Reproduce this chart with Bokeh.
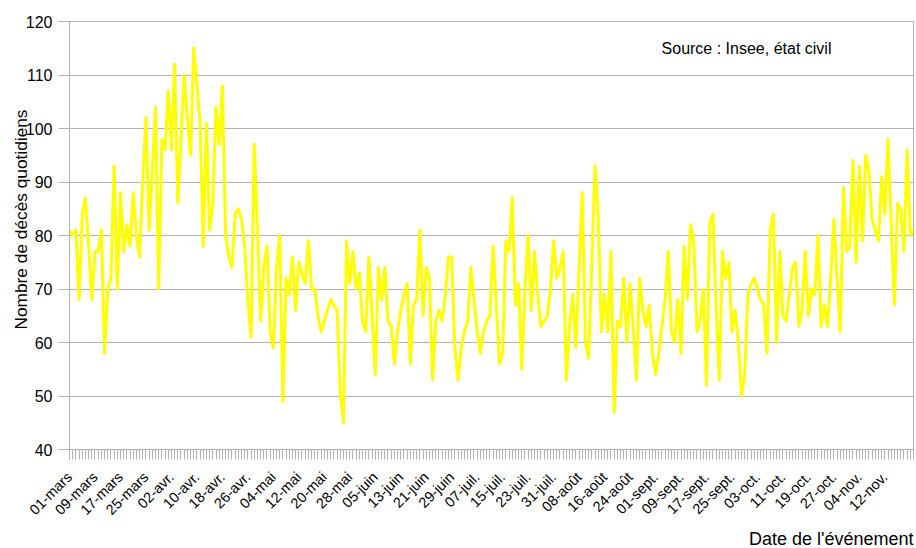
import math
from bokeh.plotting import figure
from bokeh.models import Range1d, FixedTicker, Label, ColumnDataSource, Title
from bokeh.embed import file_html
from bokeh.resources import INLINE

# Daily deaths, one value per day starting 01-mars
deaths = [
    81, 80, 81, 68, 84, 87, 78, 68, 77, 77, 81, 58, 70, 72, 93, 70, 88, 77, 82, 78,
    88, 80, 76, 90, 102, 81, 92, 104, 70, 98, 96, 107,
    96, 112, 86, 98, 110, 102, 95, 115, 108, 101, 78, 101, 81, 86, 104, 97, 108, 80,
    76, 74, 84, 85, 83, 78, 68, 61, 97, 81, 64, 74, 78, 62, 59,
    74, 80, 49, 72, 69, 76, 66, 75, 73, 71, 79, 70, 70, 65, 62, 64, 66, 68, 67, 66,
    51, 45, 79, 71, 77, 70, 73, 64, 62, 76, 65, 54, 74,
    68, 74, 64, 63, 56, 62, 66, 69, 71, 56, 67, 68, 81, 65, 74, 72, 53, 64, 66, 64,
    69, 76, 76, 59, 53, 59, 62, 64, 74, 68, 62, 58,
    62, 64, 65, 78, 67, 56, 58, 79, 77, 87, 67, 71, 55, 70, 80, 66, 77, 69, 63, 64,
    65, 70, 79, 72, 74, 77, 53, 63, 69, 59, 74, 88, 60, 57,
    75, 93, 84, 62, 69, 62, 77, 47, 64, 63, 72, 60, 71, 63, 53, 72, 66, 63, 67, 58,
    54, 58, 63, 68, 77, 62, 60, 68, 58, 78, 68,
    82, 79, 62, 64, 70, 52, 82, 84, 67, 53, 77, 72, 75, 62, 66, 60, 50, 54, 69, 71,
    72, 70, 68, 67, 58, 81, 84, 60, 77, 65, 64, 69, 74, 75,
    63, 66, 77, 65, 70, 69, 80, 63, 67, 63, 72, 83, 72, 62, 89, 77, 78, 94, 75, 93,
    79, 95, 92, 83, 81, 79, 91, 84, 98, 82, 67, 86, 85, 77, 96, 80, 81,
]

tick_labels = [
    "01-mars", "09-mars", "17-mars", "25-mars", "02-avr.", "10-avr.", "18-avr.",
    "26-avr.", "04-mai", "12-mai", "20-mai", "28-mai", "05-juin", "13-juin",
    "21-juin", "29-juin", "07-juil.", "15-juil.", "23-juil.", "31-juil.",
    "08-août", "16-août", "24-août", "01-sept.", "09-sept.", "17-sept.",
    "25-sept.", "03-oct.", "11-oct.", "19-oct.", "27-oct.", "04-nov.", "12-nov.",
]
tick_step = 8
y_ticks = [40, 50, 60, 70, 80, 90, 100, 110, 120]

x_title = "Date de l'événement"
y_title = "Nombre de décès quotidiens"
source_note = "Source : Insee, état civil"

days = list(range(len(deaths)))
major_ticks = [i * tick_step for i in range(len(tick_labels))]

FONT = "Liberation Sans"
GRID = "#b3b3b3"

src = ColumnDataSource(dict(day=days, deaths=deaths))

p = figure(width=916, height=548, output_backend="svg", toolbar_location=None,
           x_range=Range1d(0, len(deaths) - 1), y_range=Range1d(40, 120),
           min_border_left=69, min_border_right=3, min_border_top=21,
           min_border_bottom=95)
p.background_fill_color = "white"
p.border_fill_color = "white"
p.outline_line_color = GRID

p.line("day", "deaths", source=src, line_color="#ffff00", line_width=3,
       line_join="round")

# x axis
xa = p.xaxis[0]
xa.ticker = FixedTicker(ticks=major_ticks, minor_ticks=days)
xa.major_label_overrides = {t: lab for t, lab in zip(major_ticks, tick_labels)}
xa.major_label_orientation = math.pi / 4
xa.major_tick_out = 10
xa.major_tick_in = 0
xa.minor_tick_out = 10
xa.minor_tick_in = 0
xa.axis_line_color = GRID
xa.major_tick_line_color = GRID
xa.minor_tick_line_color = GRID
xa.major_label_text_font = FONT
xa.major_label_text_font_size = "14.5px"
xa.major_label_text_color = "#000000"
xa.major_label_standoff = 15

# x axis title, right-aligned under the axis
p.add_layout(Title(text=x_title, align="right", standoff=0,
                   text_font=FONT, text_font_size="18px",
                   text_font_style="normal", text_color="#000000"), "below")

# y axis
ya = p.yaxis[0]
ya.ticker = FixedTicker(ticks=y_ticks)
ya.major_tick_out = 11
ya.major_tick_in = 0
ya.minor_tick_line_color = None
ya.axis_line_color = GRID
ya.major_tick_line_color = GRID
ya.major_label_text_font = FONT
ya.major_label_text_font_size = "16px"
ya.major_label_text_color = "#000000"
ya.major_label_standoff = 6

# y axis title, placed a little above the frame's middle
p.add_layout(Title(text=y_title, align="left", offset=120, standoff=-16,
                   text_font=FONT, text_font_size="17.3px",
                   text_font_style="normal", text_color="#000000"), "left")

p.xgrid.visible = False
p.ygrid.grid_line_color = GRID

p.add_layout(Label(x=677, y=401, x_units="screen", y_units="screen",
                   text=source_note, text_align="center",
                   text_baseline="middle",
                   text_font=FONT, text_font_size="16px", text_color="#000000"))

open("out.html", "w").write(file_html(p, INLINE))
